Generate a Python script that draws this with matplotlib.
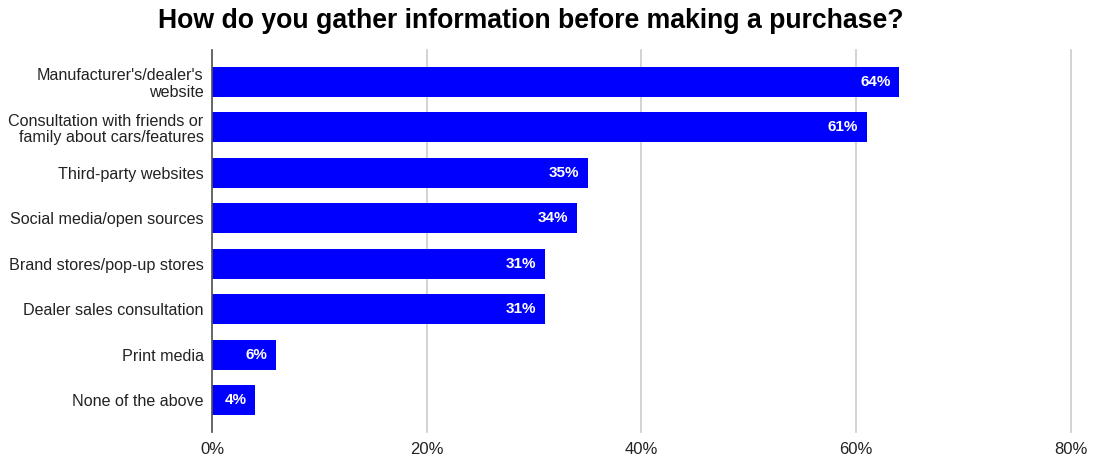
import matplotlib
matplotlib.use("Agg")
from matplotlib import pyplot as plt
from matplotlib.ticker import FuncFormatter

plt.rcParams['font.family'] = ['Liberation Sans', 'DejaVu Sans']

# 数据
categories = [
    "Manufacturer's/dealer's\nwebsite",
    "Consultation with friends or\nfamily about cars/features",
    "Third-party websites",
    "Social media/open sources",
    "Brand stores/pop-up stores",
    "Dealer sales consultation",
    "Print media",
    "None of the above",
]
values = [64, 61, 35, 34, 31, 31, 6, 4]
xticks = [0, 20, 40, 60, 80]

fig = plt.figure(figsize=(10.94, 4.59), dpi=100)
ax = fig.add_axes([0.1938, 0.059, 0.785, 0.832])

y = list(range(len(categories)))
ax.barh(y, values, height=0.66, color='#0000ff', zorder=3)

for yi, v in zip(y, values):
    ax.text(v - 0.8, yi, f"{v}%", ha='right', va='center', color='white',
            fontsize=11, fontweight='bold', zorder=4)

ax.set_yticks(y)
ax.set_yticklabels(categories, fontsize=11.6, color='#222222', linespacing=1.1)
ax.set_ylim(7.7, -0.7)
ax.set_xlim(0, 80)
ax.set_xticks(xticks)
ax.xaxis.set_major_formatter(FuncFormatter(lambda v, p: f"{v:.0f}%"))
ax.tick_params(axis='x', labelsize=12, colors='#222222', length=0, pad=7)
ax.tick_params(axis='y', length=0, pad=6)
ax.grid(axis='x', color='#cccccc', linewidth=1.2, zorder=0)
for gl in ax.get_xgridlines():
    gl.set_clip_on(False)

for s in ['top', 'right', 'bottom']:
    ax.spines[s].set_visible(False)
ax.spines['left'].set_color('#555555')
ax.spines['left'].set_linewidth(1.2)
ax.spines['left'].set_zorder(5)

fig.text(0.485, 0.955, "How do you gather information before making a purchase?",
         ha='center', va='center', fontsize=19.2, fontweight='bold')

fig.savefig('out.png', dpi=100)
